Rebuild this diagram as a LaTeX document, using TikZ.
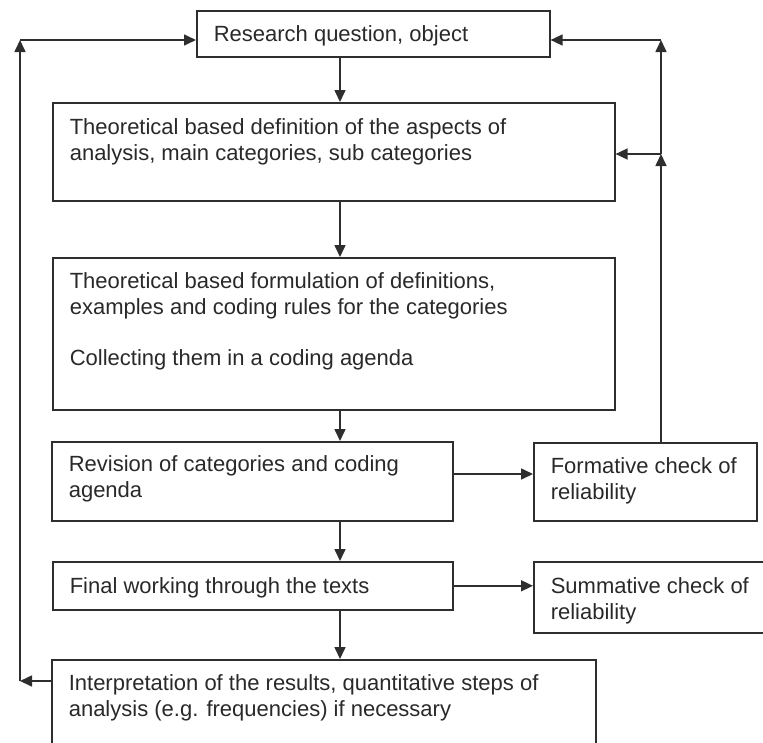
\documentclass[tikz,border=0pt]{standalone}
\usepackage{fontspec}
\setmainfont{Liberation Sans}
\usetikzlibrary{arrows.meta}
\definecolor{lc}{gray}{0.18}
\definecolor{tc}{gray}{0.16}
\newcommand{\bxt}[4]{\parbox[c][#2][t]{#1}{\raggedright\leftskip=17pt\relax\parindent=0pt\fontsize{22}{25.5}\selectfont\color{tc}\vspace*{#3}#4}}
\begin{document}
\begin{tikzpicture}[x=1pt,y=-1pt,
  box/.style={draw=lc, line width=1.6pt, inner sep=0pt, anchor=north west},
  arr/.style={draw=lc, line width=1.6pt, -{Triangle[length=12pt,width=11pt]}}]
\useasboundingbox (0,0) rectangle (763,742);
\node[box] (b1) at (196,10) {\bxt{353pt}{46pt}{15pt}{Research question, object}};
\node[box] (b2) at (52,102) {\bxt{562pt}{98pt}{16pt}{Theoretical based definition of the aspects of\\ analysis, main categories, sub categories}};
\node[box] (b3) at (52,257) {\bxt{562pt}{152pt}{15pt}{Theoretical based formulation of definitions,\\ examples and coding rules for the categories\\[25.5pt] Collecting them in a coding agenda}};
\node[box] (b4) at (51,441) {\bxt{401pt}{79pt}{14pt}{Revision of categories and coding\\ agenda}};
\node[box] (b5) at (52,561) {\bxt{400pt}{48pt}{16pt}{Final working through the texts}};
\node[box] (b6) at (51,659) {\bxt{544pt}{110pt}{15pt}{Interpretation of the results, quantitative steps of\\ analysis (e.g. frequencies) if necessary}};
\node[box] (f) at (533,442) {\bxt{223pt}{78pt}{15pt}{Formative check of\\ reliability}};
\node[box] (s) at (533,561) {\bxt{242pt}{71pt}{16pt}{Summative check of\\ reliability}};
\coordinate (cx) at (340,0);
\coordinate (r1) at (661,40);
\coordinate (r2) at (661,154);
\coordinate (l1) at (20,40);
\coordinate (l3) at (20,681);
\coordinate (fy) at (0,474);
\draw[arr] (b1.south -| cx) -- (b2.north -| cx);
\draw[arr] (b2.south -| cx) -- (b3.north -| cx);
\draw[arr] (b3.south -| cx) -- (b4.north -| cx);
\draw[arr] (b4.south -| cx) -- (b5.north -| cx);
\draw[arr] (b5.south -| cx) -- (b6.north -| cx);
\draw[arr] (b4.east |- fy) -- (f.west |- fy);
\draw[arr] (b5.east) -- (s.west |- b5.east);
\draw[arr] (f.north -| r2) -- (r2);
\draw[arr] (r2) -- (r1);
\draw[arr] (r2) -- (b2.east |- r2);
\draw[arr] (r1) -- (b1.east |- r1);
\draw[arr] (b6.west |- l3) -- (l3);
\draw[arr] (l3) -- (l1);
\draw[arr] (l1) -- (b1.west |- l1);
\end{tikzpicture}
\end{document}
